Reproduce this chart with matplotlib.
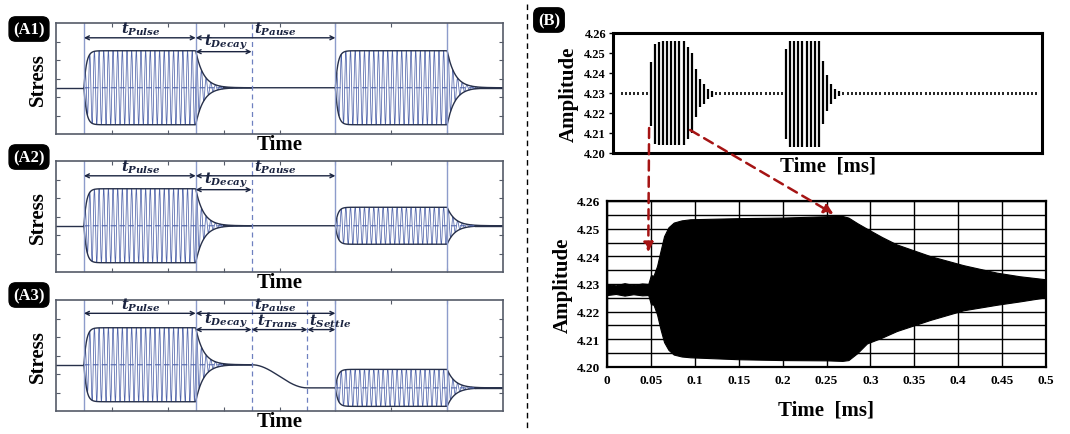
import numpy as np
import matplotlib.pyplot as plt
from matplotlib.patches import ConnectionPatch

plt.rcParams['font.family'] = ['Liberation Serif', 'DejaVu Serif']
plt.rcParams['mathtext.fontset'] = 'custom'
plt.rcParams['mathtext.it'] = 'DejaVu Serif:italic:bold'
plt.rcParams['mathtext.rm'] = 'DejaVu Serif:bold'

# ---------------- data ----------------
# (A) schematic stress pulses, time in arbitrary units (axis 0..8)
pulse_on = [0.5, 5.0]
pulse_off = [2.5, 7.0]
amp_a1 = [2.0, 2.0]
amp_a2 = [2.0, 1.0]
amp_a3 = [2.0, 1.0]
base_a3 = [0.0, -1.25]
decay_end = 3.5
trans_end = 4.5
carrier_per_unit = 12
rise_tau = 0.045
decay_tau = 0.14

# (B) top: sampled amplitude bars (sample index, max, min)
burst1_idx = list(range(7, 23))
burst1_hi = [4.2455, 4.2545, 4.2557, 4.2560, 4.2560, 4.2560, 4.2560, 4.2560, 4.2558,
             4.2530, 4.2500, 4.2420, 4.2370, 4.2345, 4.2320, 4.2312]
burst1_lo = [4.2135, 4.2045, 4.2040, 4.2038, 4.2038, 4.2038, 4.2038, 4.2038, 4.2040,
             4.2070, 4.2100, 4.2180, 4.2230, 4.2245, 4.2270, 4.2280]
burst2_idx = list(range(40, 54))
burst2_hi = [4.2520, 4.2560, 4.2560, 4.2560, 4.2560, 4.2560, 4.2560, 4.2560, 4.2560,
             4.2460, 4.2390, 4.2345, 4.2320, 4.2310]
burst2_lo = [4.2070, 4.2030, 4.2030, 4.2030, 4.2030, 4.2030, 4.2030, 4.2030, 4.2030,
             4.2145, 4.2210, 4.2245, 4.2270, 4.2285]
rest_idx = list(range(0, 7)) + list(range(23, 40)) + list(range(54, 102))
rest_level = 4.2297

# (B) bottom: measured envelope [ms]
env_t = [0, 0.01, 0.02, 0.03, 0.04, 0.047, 0.05, 0.053, 0.057, 0.061, 0.065, 0.07,
         0.076, 0.085, 0.095, 0.15, 0.2, 0.25, 0.268, 0.275, 0.285, 0.296, 0.313,
         0.33, 0.368, 0.406, 0.444, 0.47, 0.5]
env_hi = [4.2300, 4.2295, 4.2303, 4.2296, 4.2302, 4.2300, 4.2332, 4.2330, 4.2365,
          4.2420, 4.2473, 4.2505, 4.2522, 4.2530, 4.2534, 4.2538, 4.2540, 4.2545,
          4.2546, 4.2540, 4.2520, 4.2500, 4.2470, 4.2443, 4.2401, 4.2368, 4.2341,
          4.2328, 4.2317]
env_lo = [4.2260, 4.2264, 4.2258, 4.2263, 4.2259, 4.2260, 4.2227, 4.2225, 4.2190,
          4.2136, 4.2090, 4.2062, 4.2045, 4.2038, 4.2035, 4.2028, 4.2025, 4.2024,
          4.2022, 4.2025, 4.2050, 4.2085, 4.2106, 4.2130, 4.2170, 4.2205, 4.2225,
          4.2237, 4.2252]
b_xticks = [0, 0.05, 0.1, 0.15, 0.2, 0.25, 0.3, 0.35, 0.4, 0.45, 0.5]
b_yticks = [4.20, 4.21, 4.22, 4.23, 4.24, 4.25, 4.26]

# ---------------- style ----------------
W, H = 1070, 435
wave_c = '#5266ab'
env_c = '#27304a'
vline_c = '#8d9ccb'
txt_c = '#1b2440'
spine_c = '#555b68'


def fax(x0, y0, x1, y1):
    return fig.add_axes([x0 / W, 1 - y1 / H, (x1 - x0) / W, (y1 - y0) / H])


def base_curve(t, bases):
    b = np.full_like(t, bases[0])
    s = np.clip((t - decay_end) / (trans_end - decay_end), 0, 1)
    return b + (bases[1] - bases[0]) * (1 - np.cos(np.pi * s)) / 2


def stress_panel(ax, amps, bases, three):
    t = np.linspace(0, 8, 16000)
    base = base_curve(t, bases)
    for on, off, a in zip(pulse_on, pulse_off, amps):
        m = (t >= on) & (t <= off + 1.0)
        tt = t[m]
        env = np.where(tt <= off, a * (1 - np.exp(-(tt - on) / rise_tau)),
                       a * (1 - np.exp(-(off - on) / rise_tau)) * np.exp(-(tt - off) / decay_tau))
        sig = base[m] + env * np.sin(2 * np.pi * carrier_per_unit * (tt - on))
        ax.plot(tt, sig, color=wave_c, lw=0.55)
        ax.plot(tt, base[m] + env, color=env_c, lw=1.0)
        ax.plot(tt, base[m] - env, color=env_c, lw=1.0)
        md = (t >= on) & (t <= off + 0.5)
        ax.plot(t[md], base[md], color=wave_c, lw=0.8, ls=(0, (5, 3)))
    for a_, b_ in [(0, pulse_on[0]), (pulse_off[0] + 0.5, pulse_on[1]), (pulse_off[1] + 0.5, 8)]:
        m = (t >= a_) & (t <= b_)
        ax.plot(t[m], base[m], color=env_c, lw=1.0)
    for x in pulse_on + pulse_off:
        ax.axvline(x, color=vline_c, lw=1.0)
    dl = [decay_end, trans_end] if three else [decay_end]
    for x in dl:
        ax.axvline(x, color='#6f80c0', lw=0.9, ls=(0, (4, 3)))
    ax.set_xlim(0, 8)
    ax.set_ylim(-2.5, 3.5)
    ax.set_xticks(np.arange(1, 8))
    ax.set_yticks([-1.5, -0.5, 0.5, 1.5, 2.5])
    ax.tick_params(direction='in', length=3, color=spine_c, top=True, right=True,
                   labelbottom=False, labelleft=False)
    for s in ax.spines.values():
        s.set_color(spine_c)
        s.set_linewidth(1.2)

    def arrow(x0, x1, y, lab, lx):
        ax.annotate('', xy=(x1, y), xytext=(x0, y),
                    arrowprops=dict(arrowstyle='<->', color=txt_c, lw=1.0,
                                    shrinkA=0, shrinkB=0, mutation_scale=7))
        ax.text(lx, y + 0.03, lab, color=txt_c, fontsize=10.5, ha='center', va='bottom')

    hi = 2.78 if three else 2.7
    lo = 1.9 if three else 1.95
    arrow(pulse_on[0], pulse_off[0], hi, r'$t_{Pulse}$', 1.52)
    arrow(pulse_off[0], pulse_on[1], hi, r'$t_{Pause}$', 3.92)
    arrow(pulse_off[0], decay_end, lo, r'$t_{Decay}$', 3.03)
    if three:
        arrow(decay_end, trans_end, lo, r'$t_{Trans}$', 3.97)
        arrow(trans_end, pulse_on[1], lo, r'$t_{Settle}$', 4.9)
    ax.set_ylabel('Stress', fontsize=15, fontweight='bold', labelpad=6)
    ax.set_xlabel('Time', fontsize=15, fontweight='bold', labelpad=0)


fig = plt.figure(figsize=(W / 100, H / 100), dpi=100)

ax1 = fax(56, 24, 503, 135)
stress_panel(ax1, amp_a1, [0.0, 0.0], False)
ax2 = fax(56, 162, 503, 273)
stress_panel(ax2, amp_a2, [0.0, 0.0], False)
ax3 = fax(56, 301, 503, 412)
stress_panel(ax3, amp_a3, base_a3, True)

# panel tags
for lab, x, y in [('(A1)', 29, 30), ('(A2)', 29, 158), ('(A3)', 29, 296), ('(B)', 549, 21)]:
    fig.text(x / W, 1 - y / H, lab, color='white', fontsize=12, fontweight='bold',
             ha='center', va='center',
             bbox=dict(boxstyle='round,pad=0.25,rounding_size=0.4', fc='black', ec='black'))

# divider
fig.add_artist(plt.Line2D([527 / W, 527 / W], [1 - 5 / H, 1 - 432 / H], color='black',
                          lw=1.0, ls=(0, (4, 3))))

# (B) top
bt = fax(613, 34, 1042, 154)
bt.vlines(burst1_idx, burst1_lo, burst1_hi, color='black', lw=1.6)
bt.vlines(burst2_idx, burst2_lo, burst2_hi, color='black', lw=1.6)
bt.vlines(rest_idx, [rest_level - 0.0008] * len(rest_idx), [rest_level + 0.0008] * len(rest_idx),
          color='black', lw=1.2)
bt.set_xlim(-2.2, 102.4)
bt.set_ylim(4.20, 4.26)
bt.set_yticks(b_yticks)
bt.set_yticklabels(['%.2f' % v for v in b_yticks], fontsize=9, fontweight='bold')
bt.set_xticks([])
bt.tick_params(axis='y', length=3, width=1, pad=2)
for s in bt.spines.values():
    s.set_linewidth(2.2)
bt.set_ylabel('Amplitude', fontsize=15, fontweight='bold', labelpad=4)
bt.set_xlabel('Time  [ms]', fontsize=15, fontweight='bold', labelpad=2)

# (B) bottom
bb = fax(607, 202, 1046, 368)
bb.fill_between(env_t, env_lo, env_hi, color='black', lw=0.8, zorder=3)
bb.set_xlim(0, 0.5)
bb.set_ylim(4.20, 4.26)
bb.set_xticks(b_xticks)
bb.set_xticklabels(['0' if v == 0 else ('%g' % v) for v in b_xticks], fontsize=9.5,
                   fontweight='bold')
bb.set_yticks(b_yticks)
bb.set_yticklabels(['%.2f' % v for v in b_yticks], fontsize=9.5, fontweight='bold')
bb.set_yticks(np.arange(4.205, 4.26, 0.01), minor=True)
bb.grid(True, which='both', color='black', lw=1.0)
bb.tick_params(which='both', length=0, pad=5)
for s in bb.spines.values():
    s.set_linewidth(1.6)
bb.set_ylabel('Amplitude', fontsize=15, fontweight='bold', labelpad=3)
bb.set_xlabel('Time  [ms]', fontsize=15, fontweight='bold', labelpad=10)

# red connectors
for (xa, ya), (xb, yb) in [((6.6, 4.2125), (0.047, 4.2415)), ((16.6, 4.2115), (0.258, 4.2553))]:
    cp = ConnectionPatch(xyA=(xa, ya), coordsA=bt.transData, xyB=(xb, yb), coordsB=bb.transData,
                         arrowstyle='-|>', color='#a51414', lw=1.8, ls=(0, (4, 2.5)),
                         mutation_scale=14, zorder=10)
    fig.add_artist(cp)

fig.savefig('out.png', dpi=100)
